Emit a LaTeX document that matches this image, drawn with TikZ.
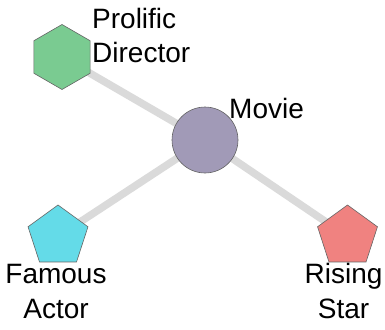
\documentclass[tikz,border=0pt]{standalone}
\usepackage{fontspec}
\setmainfont{Liberation Sans}
\usetikzlibrary{shapes.geometric,backgrounds}
\definecolor{hexgreen}{RGB}{122,203,145}
\definecolor{movielav}{RGB}{161,154,183}
\definecolor{actorcyan}{RGB}{100,219,232}
\definecolor{starred}{RGB}{240,130,128}
\definecolor{edgegray}{RGB}{218,218,218}
\definecolor{outline}{RGB}{100,100,100}
\tikzset{
  vertex/.style={draw=outline, line width=0.6pt, inner sep=0pt},
  hexnode/.style={vertex, regular polygon, regular polygon sides=6, shape border rotate=30, minimum size=65pt, fill=hexgreen},
  pentnode/.style={vertex, regular polygon, regular polygon sides=5, minimum size=63pt},
  circnode/.style={vertex, circle, minimum size=66pt, fill=movielav},
  link/.style={draw=edgegray, line width=7.5pt},
  lbl/.style={font=\fontsize{28}{34.5}\selectfont, inner sep=0pt, text=black}
}
\begin{document}
\begin{tikzpicture}[x=1pt, y=-1pt]
\useasboundingbox (0,0) rectangle (385,329);
\node[hexnode] (director) at (62,57) {};
\node[circnode] (movie) at (205,140) {};
\node[pentnode, fill=actorcyan] (actor) at (58,236.5) {};
\node[pentnode, fill=starred] (star) at (347.5,236.5) {};
\begin{scope}[on background layer]
\draw[link] (director.center) -- (movie.center);
\draw[link] (movie.center) -- (actor.center);
\draw[link] (movie.center) -- (star.center);
\end{scope}
\node[lbl, anchor=base west, align=left] (ldirector) at (92,63) {Prolific\\Director};
\node[lbl, anchor=base west] (lmovie) at (229,118) {Movie};
\node[lbl, anchor=base, align=center] (lactor) at (56,318) {Famous\\Actor};
\node[lbl, anchor=base, align=center] (lstar) at (343.5,318) {Rising\\Star};
\end{tikzpicture}
\end{document}
